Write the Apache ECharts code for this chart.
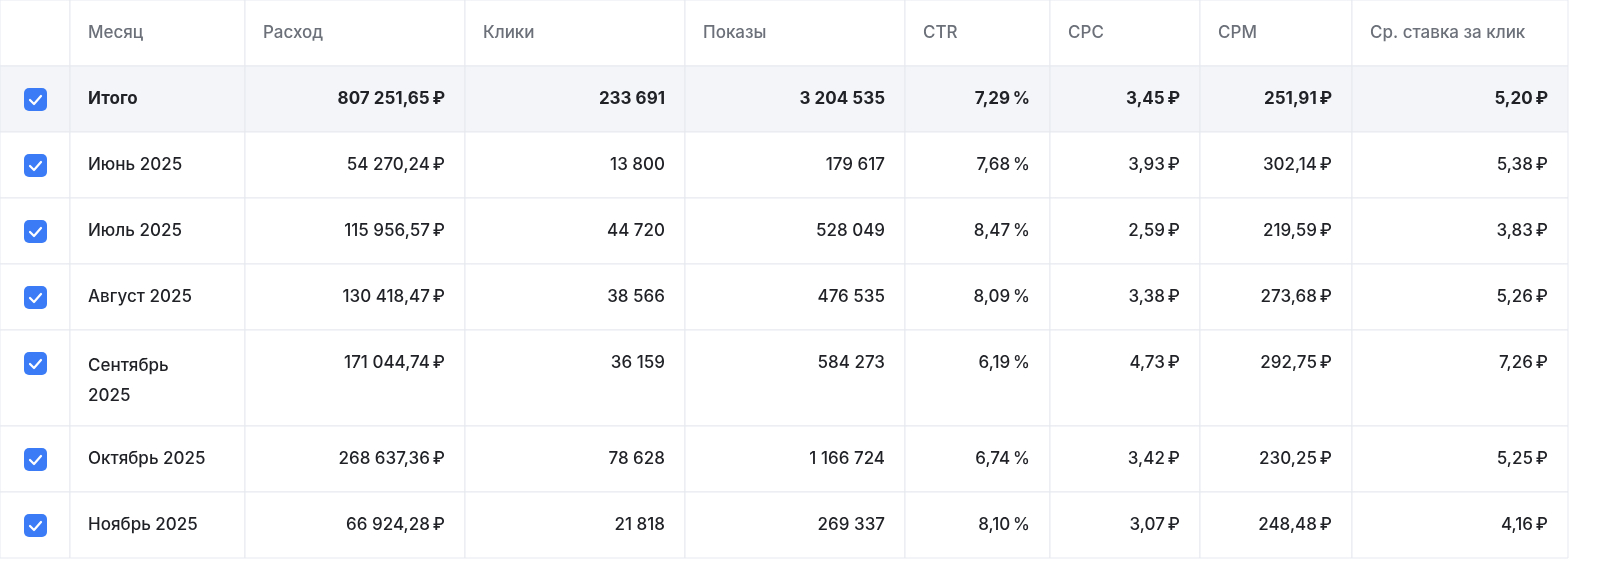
<!DOCTYPE html>
<html><head><meta charset="utf-8">
<script src="https://cdn.jsdelivr.net/npm/echarts@6/dist/echarts.min.js"></script>
<style>html,body{margin:0;padding:0;background:#fff}#chart{width:1600px;height:568px}</style>
</head><body><div id="chart"></div>
<script>
var headers = ["", "Месяц", "Расход", "Клики", "Показы", "CTR", "CPC", "CPM", "Ср. ставка за клик"];
var months = ["Итого", "Июнь 2025", "Июль 2025", "Август 2025", "Сентябрь\n2025", "Октябрь 2025", "Ноябрь 2025"];
var spend = [807251.65, 54270.24, 115956.57, 130418.47, 171044.74, 268637.36, 66924.28];
var clicks = [233691, 13800, 44720, 38566, 36159, 78628, 21818];
var shows = [3204535, 179617, 528049, 476535, 584273, 1166724, 269337];
var ctr = [7.29, 7.68, 8.47, 8.09, 6.19, 6.74, 8.10];
var cpc = [3.45, 3.93, 2.59, 3.38, 4.73, 3.42, 3.07];
var cpm = [251.91, 302.14, 219.59, 273.68, 292.75, 230.25, 248.48];
var bid = [5.20, 5.38, 3.83, 5.26, 7.26, 5.25, 4.16];

// layout of the table (pixel units of the hidden axes)
var colEdges = [0, 70, 245, 465, 685, 905, 1050, 1200, 1352, 1568];
var rowEdges = [0, 66, 132, 198, 264, 330, 426, 492, 558];

function fmt(v, dec) {
	var s = v.toFixed(dec).split(".");
	var int = s[0].replace(/\B(?=(\d{3})+(?!\d))/g, "\u00a0");
	return dec ? int + "," + s[1] : int;
}
var columns = [
	null,
	function (i) { return months[i]; },
	function (i) { return fmt(spend[i], 2) + "\u202f₽"; },
	function (i) { return fmt(clicks[i], 0); },
	function (i) { return fmt(shows[i], 0); },
	function (i) { return fmt(ctr[i], 2) + "\u202f%"; },
	function (i) { return fmt(cpc[i], 2) + "\u202f₽"; },
	function (i) { return fmt(cpm[i], 2) + "\u202f₽"; },
	function (i) { return fmt(bid[i], 2) + "\u202f₽"; }
];

var cells = [];
for (var r = 0; r <= months.length; r++) {
	for (var c = 0; c < headers.length; c++) cells.push([c, r]);
}

function renderCell(params, api) {
	var c = api.value(0), r = api.value(1);
	var p0 = api.coord([colEdges[c], rowEdges[r]]);
	var p1 = api.coord([colEdges[c + 1], rowEdges[r + 1]]);
	var w = p1[0] - p0[0], h = p1[1] - p0[1];
	var children = [{
		type: "rect",
		shape: { x: p0[0], y: p0[1], width: w, height: h },
		style: { fill: r === 1 ? "#f3f5f9" : "#fff", stroke: "#e6e9ef", lineWidth: 1 }
	}];
	var ty = p0[1] + 33;
	if (c === 0) {
		if (r > 0) {
			children.push({ type: "rect", shape: { x: p0[0] + 24, y: ty - 11, width: 23, height: 23, r: 5 }, style: { fill: "#3b7cf6" } });
			children.push({ type: "polyline", shape: { points: [[p0[0] + 30, ty + 1], [p0[0] + 34, ty + 5], [p0[0] + 41, ty - 3]] },
				style: { stroke: "#fff", lineWidth: 2.2, fill: null, lineCap: "round", lineJoin: "round" } });
		}
	} else {
		var text, left;
		if (r === 0) { text = headers[c]; left = true; }
		else { text = columns[c](r - 1); left = c === 1; }
		var multi = text.indexOf("\n") >= 0;
		children.push({
			type: "text",
			style: {
				text: text,
				x: left ? p0[0] + 18 : p1[0] - 20,
				y: multi ? ty - 12 : ty,
				align: left ? "left" : "right",
				verticalAlign: multi ? "top" : "middle",
				lineHeight: 30,
				font: (r === 1 ? "bold " : "500 ") + "17px Inter, 'Noto Sans', sans-serif",
				fill: r === 0 ? "#6b7079" : "#1f2126"
			}
		});
	}
	return { type: "group", children: children };
}

var chart = echarts.init(document.getElementById("chart"));
chart.setOption({
	animation: false,
	grid: { left: 0, right: 0, top: 0, bottom: 0, containLabel: false, outerBoundsMode: "none" },
	xAxis: { type: "value", min: 0, max: 1600, show: false },
	yAxis: { type: "value", min: 0, max: 568, inverse: true, show: false },
	series: [{ type: "custom", renderItem: renderCell, data: cells, clip: false }]
});
</script></body></html>
